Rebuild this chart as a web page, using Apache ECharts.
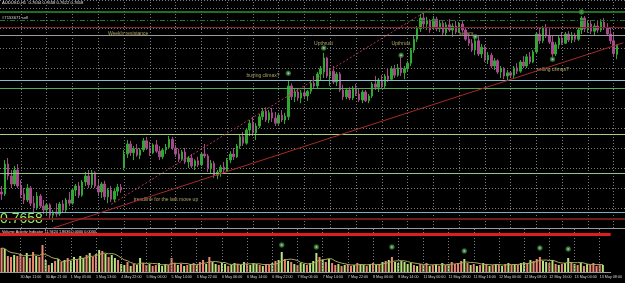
<!DOCTYPE html>
<html>
<head>
<meta charset="utf-8">
<title>AUDUSD,H1</title>
<script src="https://cdn.jsdelivr.net/npm/echarts@6.0.0/dist/echarts.min.js"></script>
<style>
  html, body { margin: 0; padding: 0; background: #000; }
  #chart { width: 625px; height: 283px; }
</style>
</head>
<body>
<div id="chart"></div>
<script>
// prices are kept in pips (1/10000), one entry per H1 bar
var PIP = 10000;
var symbolName = 'AUDUSD,H1';
var orderLabel = '#7153671 sell';
var indicatorTitle = 'Volume Activity Indicator 11.9424 1.8636 0.0000 0.0000';

var opens = [
  7290,7285,7360,7330,7310,7345,7305,7285,7270,7300,
  7262,7250,7280,7255,7245,7258,7232,7240,7235,7260,
  7245,7270,7262,7295,7305,7282,7315,7330,7308,7338,
  7305,7290,7310,7278,7295,7272,7292,7302,7350,7385,
  7410,7388,7398,7382,7395,7418,7400,7388,7408,7392,
  7378,7395,7402,7422,7400,7385,7372,7390,7365,7375,
  7355,7368,7358,7385,7380,7348,7362,7332,7340,7352,
  7345,7370,7385,7378,7405,7428,7412,7445,7462,7438,
  7455,7478,7492,7470,7488,7475,7462,7482,7470,7478,
  7555,7528,7540,7525,7538,7530,7542,7562,7555,7585,
  7590,7625,7580,7592,7565,7585,7545,7528,7545,7525,
  7550,7535,7520,7540,7518,7530,7560,7552,7570,7555,
  7580,7572,7598,7582,7600,7588,7598,7612,7645,7672,
  7698,7725,7710,7718,7700,7722,7698,7712,7688,7708,
  7695,7705,7690,7710,7695,7672,7662,7645,7668,7635,
  7652,7620,7632,7605,7618,7590,7598,7580,7588,7582,
  7600,7592,7615,7605,7628,7615,7640,7685,7668,7698,
  7680,7665,7635,7658,7675,7662,7685,7670,7682,7672,
  7695,7725,7698,7710,7692,7705,7695,7715,7700,7685,
  7668,7634
];
var highs = [
  7305,7370,7375,7345,7355,7360,7320,7300,7310,7305,
  7280,7290,7285,7270,7262,7262,7245,7262,7265,7270,
  7275,7290,7300,7310,7315,7320,7340,7345,7345,7342,
  7320,7315,7318,7300,7305,7300,7310,7310,7395,7420,
  7418,7405,7410,7400,7425,7428,7415,7412,7420,7405,
  7400,7410,7430,7428,7408,7398,7395,7400,7380,7385,
  7372,7378,7390,7410,7385,7370,7368,7345,7358,7365,
  7375,7392,7400,7410,7435,7440,7450,7470,7478,7462,
  7485,7500,7502,7495,7500,7490,7488,7495,7488,7568,
  7562,7548,7550,7545,7552,7545,7570,7580,7590,7605,
  7638,7628,7600,7605,7590,7590,7558,7550,7552,7555,
  7560,7548,7545,7545,7535,7565,7580,7575,7582,7585,
  7600,7605,7608,7610,7628,7605,7618,7650,7680,7705,
  7735,7738,7728,7722,7730,7728,7720,7718,7715,7722,
  7712,7718,7715,7720,7700,7685,7672,7675,7680,7660,
  7658,7640,7638,7625,7622,7605,7602,7595,7592,7605,
  7612,7620,7630,7635,7640,7645,7690,7700,7705,7710,
  7700,7680,7665,7682,7690,7690,7692,7690,7688,7700,
  7730,7730,7718,7720,7712,7718,7722,7725,7712,7700,
  7690,7658
];
var lows = [
  7270,7280,7320,7300,7305,7300,7275,7260,7265,7255,
  7240,7245,7250,7235,7230,7225,7215,7228,7230,7240,
  7240,7255,7258,7280,7275,7278,7305,7300,7300,7300,
  7280,7275,7270,7262,7265,7265,7280,7288,7345,7375,
  7380,7370,7378,7372,7390,7395,7380,7385,7388,7370,
  7372,7385,7398,7395,7378,7365,7368,7360,7350,7350,
  7345,7352,7355,7375,7340,7335,7325,7322,7328,7335,
  7340,7362,7370,7375,7398,7405,7408,7430,7430,7420,
  7450,7470,7465,7462,7465,7455,7458,7465,7460,7470,
  7520,7515,7518,7512,7522,7518,7535,7548,7550,7570,
  7575,7575,7555,7560,7555,7540,7520,7522,7520,7520,
  7530,7515,7512,7515,7512,7525,7545,7540,7548,7550,
  7565,7568,7575,7578,7580,7572,7590,7605,7638,7665,
  7690,7700,7695,7688,7695,7692,7690,7680,7682,7690,
  7678,7685,7688,7690,7668,7655,7640,7632,7630,7625,
  7615,7610,7600,7595,7585,7575,7572,7570,7575,7575,
  7585,7588,7600,7600,7610,7612,7635,7660,7662,7675,
  7660,7628,7630,7650,7658,7660,7665,7662,7665,7668,
  7685,7690,7688,7685,7682,7688,7690,7695,7680,7660,
  7630,7622
];
var closes = [
  7285,7360,7330,7310,7345,7305,7285,7270,7300,7262,
  7250,7280,7255,7245,7258,7232,7240,7235,7260,7245,
  7270,7262,7295,7305,7282,7315,7330,7308,7338,7305,
  7290,7310,7278,7295,7272,7292,7302,7295,7385,7410,
  7388,7398,7382,7395,7418,7400,7388,7408,7392,7378,
  7395,7402,7422,7400,7385,7372,7390,7365,7375,7355,
  7368,7358,7385,7380,7348,7362,7332,7340,7352,7345,
  7370,7385,7378,7405,7428,7412,7445,7462,7438,7455,
  7478,7492,7470,7488,7475,7462,7482,7470,7480,7555,
  7528,7540,7525,7538,7530,7542,7562,7555,7585,7598,
  7625,7580,7592,7565,7585,7545,7528,7545,7525,7550,
  7535,7520,7540,7518,7530,7560,7552,7570,7555,7580,
  7572,7598,7582,7600,7588,7598,7612,7645,7672,7698,
  7725,7710,7718,7695,7722,7698,7712,7688,7708,7695,
  7705,7690,7710,7695,7672,7662,7645,7668,7635,7652,
  7620,7632,7605,7618,7590,7598,7580,7588,7582,7600,
  7592,7615,7605,7628,7615,7640,7685,7668,7698,7680,
  7665,7635,7658,7675,7662,7685,7670,7682,7672,7695,
  7725,7698,7710,7692,7705,7695,7715,7700,7685,7668,
  7636,7658
];
// tick volume per bar
var volumes = [
  2400,2300,1600,1500,1700,1600,1800,1500,1900,1400,
  2000,1600,1500,2700,1200,700,900,1100,1300,1000,
  1200,1400,1100,1500,1300,1600,1400,1700,1900,1500,
  1800,2200,2100,1800,1500,1700,1400,1200,800,700,
  1000,600,800,700,1400,900,700,800,600,700,
  900,600,800,700,1400,900,700,800,600,700,
  800,900,700,1000,1200,800,1500,1000,800,700,
  900,800,600,700,900,800,700,1000,800,700,
  900,800,700,600,800,700,900,1100,1200,2000,
  1300,1100,1000,800,700,900,800,700,900,1100,
  1900,1500,1200,1000,1300,900,700,800,600,700,
  800,600,700,900,800,700,600,800,900,700,
  800,1000,1100,1200,1500,1000,900,1100,1000,800,
  900,700,600,800,700,900,600,700,800,600,
  900,700,800,1000,800,900,1100,1300,900,700,
  800,600,700,900,800,600,700,800,700,600,
  800,900,700,800,700,900,1000,900,1200,1100,
  1300,1500,1100,1000,900,1200,800,700,800,900,
  1400,1000,800,700,900,600,800,700,900,600,
  800,700
];

var tickBars = [0, 6, 14, 22, 30, 38, 46, 54, 62, 70, 78, 86, 94, 102, 110, 118, 126, 134, 142, 150, 158, 166, 174, 182, 190];
var tickLabels = ['30 Apr 2009', '30 Apr 11:00', '30 Apr 21:00', '1 May 05:00', '1 May 13:00', '4 May 22:00',
  '5 May 06:00', '5 May 14:00', '5 May 22:00', '6 May 06:00', '6 May 14:00', '6 May 22:00', '7 May 06:00',
  '7 May 14:00', '7 May 22:00', '8 May 06:00', '8 May 14:00', '11 May 00:00', '11 May 08:00', '11 May 16:00',
  '12 May 00:00', '12 May 08:00', '12 May 16:00', '13 May 00:00', '13 May 08:00'];

// horizontal levels drawn on the chart
var levelPrices = [7740, 7720, 7702, 7683, 7570, 7550, 7435, 7338, 7240, 7222];
// trendlines: [bar, price] pairs
var trendSolid = [[16, 7200], [193, 7663]];
var trendDotted = [[34, 7259], [133, 7748]];
// text notes: [text, bar, price]
var notes = [
  ['Weekly resistance', 33, 7685],
  ['Upthrust', 97, 7661],
  ['Upthrust', 121, 7661],
  ['buying climax?', 76, 7581],
  ['sellers', 142, 7686],
  ['selling climax?', 166, 7596],
  ['trendline for the last move up', 41, 7271]
];
// arrow symbols on price and volume windows
var markBars = [89, 100, 124, 147, 171, 180];
var markPrices = [7587, 7650, 7632, 7678, 7622, 7740];
var volMarkValues = [2700, 2500, 2500, 2100, 2400, 2300];
var volumeLevel = 3750;
var barCount = 194; // 192 bars plus a little room on the right

var levelStyles = [
  { color: '#2e8f2e', width: 1.5, type: 'solid' },
  { color: '#22752a', width: 1, type: [5, 2, 1, 2] },
  { color: '#7e2424', width: 1, type: 'solid' },
  { color: '#9a9a9a', width: 1, type: 'solid' },
  { color: '#7fbfc8', width: 1, type: 'solid' },
  { color: '#4fae4f', width: 1, type: 'solid' },
  { color: '#a6d27a', width: 1, type: 'solid' },
  { color: '#96c486', width: 1, type: 'solid' },
  { color: '#72b4c4', width: 1, type: 'solid' },
  { color: '#6a1c1c', width: 2, type: 'solid' }
];
var gridStyle = { color: '#7a7a7a', type: [1, 2], width: 1 };

var categories = [];
for (var i = 0; i < barCount; i++) categories.push(String(i));

var candles = [];
var volumeBars = [];
for (var i = 0; i < closes.length; i++) {
  candles.push([opens[i] / PIP, closes[i] / PIP, lows[i] / PIP, highs[i] / PIP]);
  volumeBars.push({
    value: volumes[i],
    itemStyle: { color: closes[i] >= opens[i] ? '#b9e37c' : '#ee8673' }
  });
}

// moving average of volume, like the indicator line
function sma(arr, n) {
  var out = [];
  for (var i = 0; i < arr.length; i++) {
    var s = 0, c = 0;
    for (var j = Math.max(0, i - n + 1); j <= i; j++) { s += arr[j]; c++; }
    out.push(Math.round(s / c));
  }
  return out;
}
var volumeAvg = sma(volumes, 6);

// vertical dotted grid at every time label
var vGrid = tickBars.slice(1).map(function (b) { return { xAxis: b, lineStyle: gridStyle }; });

var markLines = vGrid.concat(levelPrices.map(function (p, k) {
  return { yAxis: p / PIP, lineStyle: levelStyles[k] };
}));
markLines.push([
  { coord: [trendSolid[0][0], trendSolid[0][1] / PIP], lineStyle: { color: '#a52a2a', width: 1, type: 'solid' } },
  { coord: [trendSolid[1][0], trendSolid[1][1] / PIP] }
]);
markLines.push([
  { coord: [trendDotted[0][0], trendDotted[0][1] / PIP], lineStyle: { color: '#b8324e', width: 1, type: [2, 2] } },
  { coord: [trendDotted[1][0], trendDotted[1][1] / PIP] }
]);

function isTick(index) { return tickBars.indexOf(index) >= 0; }

var fontFamily = '"Liberation Sans", Arial, sans-serif';
var last = closes.length - 1;
var titleText = symbolName + '  ' + [opens[last], highs[last], lows[last], closes[last]].map(function (v) { return (v / PIP).toFixed(4); }).join(' ');

var chart = echarts.init(document.getElementById('chart'));
chart.setOption({
  backgroundColor: '#000',
  animation: false,
  grid: [
    { left: 0, right: 0, top: 0, height: 228 },
    { left: 0, right: 0, top: 229, bottom: 11 }
  ],
  xAxis: [
    {
      type: 'category', gridIndex: 0, data: categories, boundaryGap: true,
      axisLine: { show: true, lineStyle: { color: '#9a9a9a' } },
      axisTick: { show: false }, axisLabel: { show: false }, splitLine: { show: false }
    },
    {
      type: 'category', gridIndex: 1, data: categories, boundaryGap: true,
      axisLine: { show: true, lineStyle: { color: '#9a9a9a' } },
      axisTick: { show: false },
      axisLabel: {
        show: true, interval: function (index) { return isTick(index); },
        formatter: function (v) { return tickLabels[tickBars.indexOf(Number(v))] || ''; },
        color: '#d8d8d8', fontSize: 3.7, fontFamily: fontFamily, align: 'left', margin: 3
      },
      splitLine: { show: false }
    }
  ],
  yAxis: [
    {
      type: 'value', gridIndex: 0, min: 0.72, max: 0.777, interval: 0.005,
      axisLine: { show: false }, axisTick: { show: false }, axisLabel: { show: false },
      splitLine: { show: true, lineStyle: gridStyle }
    },
    {
      type: 'value', gridIndex: 1, min: 0, max: 4300,
      axisLine: { show: false }, axisTick: { show: false }, axisLabel: { show: false },
      splitLine: { show: false }
    }
  ],
  series: [
    {
      name: 'price', type: 'candlestick', xAxisIndex: 0, yAxisIndex: 0,
      data: candles, barWidth: 2, z: 3,
      itemStyle: { color: '#2fa82f', color0: '#a8488c', borderColor: '#2fa82f', borderColor0: '#a8488c', borderWidth: 1 },
      markLine: { silent: true, precision: 5, symbol: ['none', 'none'], label: { show: false }, data: markLines }
    },
    {
      name: 'notes', type: 'scatter', xAxisIndex: 0, yAxisIndex: 0, symbolSize: 0, silent: true,
      data: notes.map(function (n) { return { name: n[0], value: [n[1], n[2] / PIP] }; }),
      label: { show: true, position: 'right', distance: 0, formatter: '{b}', color: '#d8c878', fontSize: 5, fontFamily: fontFamily }
    },
    {
      name: 'marks', type: 'scatter', xAxisIndex: 0, yAxisIndex: 0, symbol: 'emptyCircle', symbolSize: 3.5, silent: true,
      itemStyle: { color: '#2f7f2f', borderWidth: 1 },
      data: markBars.map(function (b, k) { return [b, markPrices[k] / PIP]; })
    },
    {
      name: 'volume', type: 'bar', xAxisIndex: 1, yAxisIndex: 1, data: volumeBars, barWidth: 2,
      markLine: {
        silent: true, precision: 2, symbol: ['none', 'none'], label: { show: false },
        data: tickBars.slice(1).map(function (b) { return { xAxis: b, lineStyle: gridStyle }; })
          .concat([{ yAxis: volumeLevel, lineStyle: { color: '#e01c1c', width: 3, type: 'solid' } }])
      }
    },
    {
      name: 'volume avg', type: 'line', xAxisIndex: 1, yAxisIndex: 1, data: volumeAvg,
      symbol: 'none', lineStyle: { color: '#aaa656', width: 1 }
    },
    {
      name: 'volume marks', type: 'scatter', xAxisIndex: 1, yAxisIndex: 1, symbol: 'emptyCircle', symbolSize: 3.5, silent: true,
      itemStyle: { color: '#2f7f2f', borderWidth: 1 },
      data: markBars.map(function (b, k) { return [b, volMarkValues[k]]; })
    }
  ],
  graphic: [
    { type: 'text', left: 2, top: 1, silent: true, style: { text: titleText, fill: '#e4e4e4', fontSize: 4.2, fontFamily: fontFamily } },
    { type: 'text', left: 2, top: 16, silent: true, style: { text: orderLabel, fill: '#dcdcdc', fontSize: 4.2, fontFamily: fontFamily } },
    { type: 'text', left: 0, top: 212, silent: true, style: { text: (closes[last] / PIP).toFixed(4), fill: '#94f05a', fontSize: 14, fontFamily: fontFamily } },
    { type: 'text', left: 2, top: 229.5, silent: true, style: { text: indicatorTitle, fill: '#e4e4e4', fontSize: 3.8, fontFamily: fontFamily } }
  ]
});
</script>
</body>
</html>
